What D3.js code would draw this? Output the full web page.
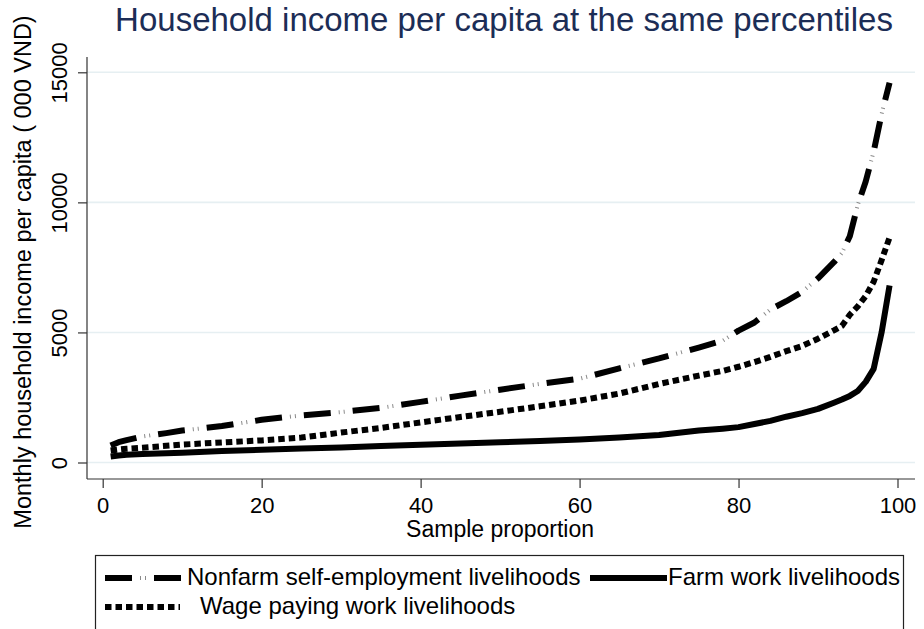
<!DOCTYPE html>
<html>
<head>
<meta charset="utf-8">
<script src="https://cdn.jsdelivr.net/npm/d3@7"></script>
<style>
  html, body { margin: 0; padding: 0; background: #fff; }
  svg { display: block; font-family: "Liberation Sans", Arial, sans-serif; }
</style>
</head>
<body>
<svg id="chart" width="924" height="629"></svg>
<script>
const pct = [1, 2, 3, 5, 8, 10, 15, 20, 25, 30, 35, 40, 45, 50, 55, 60, 65, 70, 75, 78,
  80, 82, 84, 86, 88, 90, 92, 93, 94, 95, 96, 97, 98, 99];

const nonfarm = [650, 780, 860, 1000, 1130, 1230, 1400, 1640, 1810, 1940, 2100, 2330, 2570,
  2800, 3020, 3220, 3620, 4000, 4420, 4680, 5070, 5380, 5880, 6200, 6560, 7080, 7700, 8050,
  8700, 9900, 10800, 11950, 13400, 14600];

const wage = [460, 500, 530, 570, 640, 690, 770, 850, 960, 1150, 1330, 1540, 1750, 1950,
  2160, 2380, 2650, 3020, 3340, 3520, 3680, 3860, 4060, 4280, 4480, 4760, 5080, 5250, 5680,
  6000, 6400, 6950, 7780, 8650];

const farm = [230, 270, 300, 330, 360, 375, 440, 490, 540, 580, 630, 680, 730, 780, 830, 880,
  960, 1060, 1230, 1300, 1360, 1480, 1600, 1760, 1900, 2060, 2300, 2420, 2560, 2750, 3100,
  3600, 5000, 6800];

const xTicks = [0, 20, 40, 60, 80, 100];
const yTicks = [0, 5000, 10000, 15000];

const titleText = "Household income per capita at the same percentiles";
const xTitle = "Sample proportion";
const yTitle = "Monthly household income per capita ( 000 VND)";
const labels = {
  nonfarm: "Nonfarm self-employment livelihoods",
  farm: "Farm work livelihoods",
  wage: "Wage paying work livelihoods",
};

const svg = d3.select("#chart");

// plot region (Stata-like layout)
const axisLeft = 87, axisBottom = 479, axisTop = 57, axisRight = 915;

const x = d3.scaleLinear().domain([0, 100]).range([102.7, 897.5]);
const y = d3.scaleLinear().domain([0, 15000]).range([462.5, 72.3]);

const gridColor = "#e6eff2";
const ink = "#000";

// gridlines
svg.append("g")
  .selectAll("line")
  .data(yTicks)
  .join("line")
  .attr("x1", axisLeft)
  .attr("x2", axisRight)
  .attr("y1", (d) => y(d))
  .attr("y2", (d) => y(d))
  .attr("stroke", gridColor)
  .attr("stroke-width", 1.6);

// y axis
const yAxis = (g) =>
  g
    .attr("transform", `translate(${axisLeft},0)`)
    .call(d3.axisLeft(y).tickValues(yTicks).tickSize(9).tickSizeOuter(0).tickFormat(d3.format("d")))
    .call((g) => g.select(".domain").remove())
    .call((g) => g.selectAll(".tick line").attr("stroke", "#333").attr("stroke-width", 1.2))
    .call((g) =>
      g
        .selectAll(".tick text")
        .attr("x", null)
        .attr("dy", null)
        .attr("transform", "translate(-20,0) rotate(-90)")
        .attr("text-anchor", "middle")
        .attr("fill", ink)
        .attr("font-size", 22)
        .attr("font-family", "Liberation Sans, Arial, sans-serif")
    );
svg.append("g").call(yAxis);

svg.append("line")
  .attr("x1", axisLeft).attr("x2", axisLeft)
  .attr("y1", axisTop).attr("y2", axisBottom)
  .attr("stroke", "#333").attr("stroke-width", 1.2);

// x axis
const xAxis = (g) =>
  g
    .attr("transform", `translate(0,${axisBottom})`)
    .call(d3.axisBottom(x).tickValues(xTicks).tickSize(9).tickSizeOuter(0))
    .call((g) => g.select(".domain").remove())
    .call((g) => g.selectAll(".tick line").attr("stroke", "#333").attr("stroke-width", 1.2))
    .call((g) =>
      g
        .selectAll(".tick text")
        .attr("y", 34)
        .attr("dy", null)
        .attr("fill", ink)
        .attr("font-size", 22)
        .attr("font-family", "Liberation Sans, Arial, sans-serif")
    );
svg.append("g").call(xAxis);

svg.append("line")
  .attr("x1", axisLeft).attr("x2", axisRight)
  .attr("y1", axisBottom).attr("y2", axisBottom)
  .attr("stroke", "#333").attr("stroke-width", 1.2);

// titles
svg.append("text")
  .attr("x", 504)
  .attr("y", 31)
  .attr("text-anchor", "middle")
  .attr("font-size", 33)
  .attr("fill", "#1c2d56")
  .text(titleText);

svg.append("text")
  .attr("x", (x(0) + x(100)) / 2)
  .attr("y", 537)
  .attr("text-anchor", "middle")
  .attr("font-size", 23)
  .attr("fill", ink)
  .text(xTitle);

svg.append("text")
  .attr("transform", "translate(31,272) rotate(-90)")
  .attr("text-anchor", "middle")
  .attr("font-size", 23.5)
  .attr("fill", ink)
  .text(yTitle);

// series
const styles = {
  nonfarm: { dash: "27,22", marks: "0,35,1,4,1,8" },
  wage: { dash: "6.5,4" },
  farm: { dash: null },
};

const line = d3
  .line()
  .x((d) => x(d[0]))
  .y((d) => y(d[1]));

const series = [
  { key: "farm", values: farm },
  { key: "wage", values: wage },
  { key: "nonfarm", values: nonfarm },
];

series.forEach((s) => {
  const pts = pct.map((p, i) => [p, s.values[i]]);
  svg.append("path")
    .datum(pts)
    .attr("fill", "none")
    .attr("stroke", ink)
    .attr("stroke-width", 6)
    .attr("stroke-linejoin", "round")
    .attr("stroke-dasharray", styles[s.key].dash)
    .attr("d", line);
  if (styles[s.key].marks) {
    svg.append("path")
      .datum(pts)
      .attr("fill", "none")
      .attr("stroke", "#8a8a8a")
      .attr("stroke-width", 4)
      .attr("stroke-dasharray", styles[s.key].marks)
      .attr("d", line);
  }
});

// legend
const legend = svg.append("g");
legend.append("rect")
  .attr("x", 95.5)
  .attr("y", 555.5)
  .attr("width", 808)
  .attr("height", 100)
  .attr("fill", "#fff")
  .attr("stroke", "#222")
  .attr("stroke-width", 1.2);

const legendItems = [
  { key: "nonfarm", x0: 105, x1: 185, ty: 585, tx: 187, sy: 578 },
  { key: "farm", x0: 590, x1: 667, ty: 585, tx: 668, sy: 578 },
  { key: "wage", x0: 105, x1: 180, ty: 614, tx: 200, sy: 607 },
];

legendItems.forEach((d) => {
  legend.append("line")
    .attr("x1", d.x0).attr("x2", d.x1)
    .attr("y1", d.sy).attr("y2", d.sy)
    .attr("stroke", ink)
    .attr("stroke-width", 6)
    .attr("stroke-dasharray", styles[d.key].dash);
  if (styles[d.key].marks) {
    legend.append("line")
      .attr("x1", d.x0).attr("x2", d.x1)
      .attr("y1", d.sy).attr("y2", d.sy)
      .attr("stroke", "#8a8a8a")
      .attr("stroke-width", 4)
      .attr("stroke-dasharray", "0,35,1,4,1,8");
  }
  legend.append("text")
    .attr("x", d.tx)
    .attr("y", d.ty)
    .attr("font-size", 24)
    .attr("fill", ink)
    .text(labels[d.key]);
});
</script>
</body>
</html>
